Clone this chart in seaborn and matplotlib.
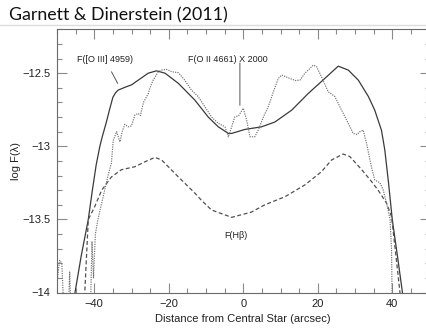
import numpy as np
import pandas as pd
import matplotlib
matplotlib.use("Agg")
import matplotlib.pyplot as plt
from matplotlib.ticker import MultipleLocator
from matplotlib.lines import Line2D
import seaborn as sns

# ---- data ----
oiii_x = [-45.5, -43.5, -41.6, -40.5, -39.5, -38.5, -37.8, -36.8, -35.9, -35.0, -34.3, -33.6,
          -31.8, -30.0, -28.2, -25.5, -23.3, -21.0, -17.4, -13.0, -9.4, -6.7, -4.0, -3.1, 0.4,
          4.9, 8.5, 13.0, 17.4, 21.9, 25.5, 28.2, 30.9, 33.6, 35.3, 37.1, 38.0, 39.0, 40.0,
          41.5, 42.9]
oiii_y = [-14.05, -13.75, -13.5, -13.3, -13.13, -13.0, -12.93, -12.84, -12.75, -12.665, -12.635,
          -12.616, -12.597, -12.58, -12.548, -12.50, -12.484, -12.50, -12.57, -12.684, -12.80,
          -12.867, -12.912, -12.912, -12.885, -12.867, -12.834, -12.753, -12.64, -12.536, -12.452,
          -12.479, -12.548, -12.66, -12.753, -12.89, -13.025, -13.25, -13.5, -13.77, -14.03]

hb_x = [-42.6, -41.6, -40.0, -38.0, -35.4, -32.7, -29.1, -26.4, -23.7, -21.9, -17.4, -13.0,
        -11.2, -8.5, -3.1, 2.2, 5.8, 11.2, 16.5, 21.0, 23.7, 26.8, 28.6, 31.8, 34.4, 36.2,
        38.5, 39.8, 41.0, 42.2]
hb_y = [-14.03, -13.5, -13.42, -13.30, -13.21, -13.16, -13.14, -13.106, -13.076, -13.094,
        -13.21, -13.32, -13.37, -13.436, -13.486, -13.45, -13.40, -13.345, -13.265, -13.174,
        -13.094, -13.053, -13.07, -13.16, -13.24, -13.30, -13.39, -13.48, -13.75, -14.03]

oii_x = [-50.0, -49.3, -48.7, -48.2, -46.9, -46.6, -46.3, -41.0, -40.6, -40.2, -39.7, -39.0,
         -38.3, -37.2, -36.3, -35.4, -34.9, -34.0, -33.1, -32.5, -31.8, -30.9, -30.0, -29.1,
         -28.2, -27.6, -26.8, -25.5, -25.1, -24.2, -22.8, -21.9, -20.6, -19.2, -17.4, -15.7,
         -13.9, -12.1, -10.3, -8.5, -6.7, -4.9, -4.0, -3.1, -2.3, -1.2, 0.0, 0.9, 1.8, 3.1,
         4.0, 5.4, 6.7, 8.1, 9.4, 10.3, 12.5, 14.0, 15.2, 16.5, 18.8, 19.7, 21.0, 22.8, 24.6,
         26.4, 28.2, 29.5, 30.5, 31.3, 32.2, 33.1, 34.4, 35.3, 36.7, 37.6, 38.9, 39.4, 39.8, 40.0]
oii_y = [-13.93, -13.78, -13.80, -14.1, -14.1, -13.86, -14.1, -14.1, -13.65, -13.9, -13.6, -13.5,
         -13.42, -13.30, -13.2, -13.115, -12.96, -12.90, -12.97, -12.9, -12.85, -12.867, -12.86,
         -12.787, -12.775, -12.79, -12.70, -12.64, -12.604, -12.548, -12.49, -12.479, -12.474,
         -12.49, -12.497, -12.548, -12.616, -12.66, -12.73, -12.80, -12.843, -12.867, -12.935,
         -12.867, -12.80, -12.79, -12.74, -12.82, -12.935, -12.935, -12.89, -12.80, -12.73,
         -12.627, -12.536, -12.513, -12.536, -12.55, -12.548, -12.502, -12.445, -12.456, -12.525,
         -12.627, -12.66, -12.753, -12.843, -12.912, -12.92, -12.90, -12.89, -12.98, -13.14,
         -13.23, -13.25, -13.30, -13.436, -13.50, -13.7, -14.1]

title_text = "Garnett & Dinerstein (2011)"
xlabel_text = "Distance from Central Star (arcsec)"
ylabel_text = "log F(\u03bb)"
label_oiii = "F([O III] 4959)"
label_oii = "F(O II 4661) X 2000"
label_hb = "F(H\u03b2)"

# ---- style ----
sns.set_theme(style="ticks")
plt.rcParams["font.family"] = ["Liberation Sans", "DejaVu Sans"]

fig = plt.figure(figsize=(4.26, 3.29), dpi=100)
ax = fig.add_axes([57 / 426, 36.5 / 329, 372.5 / 426, 263.2 / 329])

df_oiii = pd.DataFrame({"x": oiii_x, "y": oiii_y})
df_hb = pd.DataFrame({"x": hb_x, "y": hb_y})
df_oii = pd.DataFrame({"x": oii_x, "y": oii_y})

sns.lineplot(data=df_oiii, x="x", y="y", ax=ax, color="#3a3a3a", lw=0.9,
             sort=False, estimator=None)
sns.lineplot(data=df_hb, x="x", y="y", ax=ax, color="#505050", lw=0.9,
             linestyle=(0, (3.2, 2.0)), sort=False, estimator=None)
sns.lineplot(data=df_oii, x="x", y="y", ax=ax, color="#707070", lw=0.85,
             linestyle=(0, (1.0, 1.0)), sort=False, estimator=None)

ax.set_xlim(-50, 50)
ax.set_ylim(-14, -12.2)
ax.xaxis.set_major_locator(MultipleLocator(20))
ax.xaxis.set_minor_locator(MultipleLocator(5))
ax.yaxis.set_major_locator(MultipleLocator(0.5))
ax.yaxis.set_minor_locator(MultipleLocator(0.1))
ax.yaxis.set_major_formatter(matplotlib.ticker.FuncFormatter(
    lambda v, p: ("%g" % v).replace("-", "\u2212")))
ax.tick_params(which="both", direction="in", top=True, right=True, color="#8a8a8a",
               labelsize=8, labelcolor="#222222", width=0.8, pad=5)
ax.tick_params(which="major", length=7.5)
ax.tick_params(which="minor", length=3.8)
for s in ax.spines.values():
    s.set_color("#6a6a6a")
    s.set_linewidth(0.8)

ax.set_xlabel(xlabel_text, fontsize=8, color="#222222", labelpad=3)
ax.set_ylabel(ylabel_text, fontsize=8, color="#222222", labelpad=1)

txt_kw = dict(fontsize=6.5, color="#222222", ha="center", va="center")
arrow_kw = dict(arrowstyle="-", color="#555555", lw=0.7, shrinkA=4, shrinkB=0)
ax.annotate(label_oiii, xy=(-33.7, -12.57), xytext=(-37.2, -12.404),
            arrowprops=arrow_kw, **txt_kw)
ax.annotate(label_oii, xy=(-0.9, -12.72), xytext=(-4.2, -12.404),
            arrowprops=None, **txt_kw)
ax.annotate("", xy=(-0.9, -12.72), xytext=(-0.9, -12.43),
            arrowprops=dict(arrowstyle="-", color="#555555", lw=0.7, shrinkA=0, shrinkB=0))
ax.text(-1.9, -13.607, label_hb, **txt_kw)

fig.text(9 / 426, 1 - 15 / 329, title_text, fontsize=12.8, color="#111111",
         ha="left", va="center", family=["Lato", "DejaVu Sans"])
fig.add_artist(Line2D([0, 1], [1 - 25 / 329, 1 - 25 / 329], color="#dcdcdc", lw=1))

fig.savefig("out.png", dpi=100)
